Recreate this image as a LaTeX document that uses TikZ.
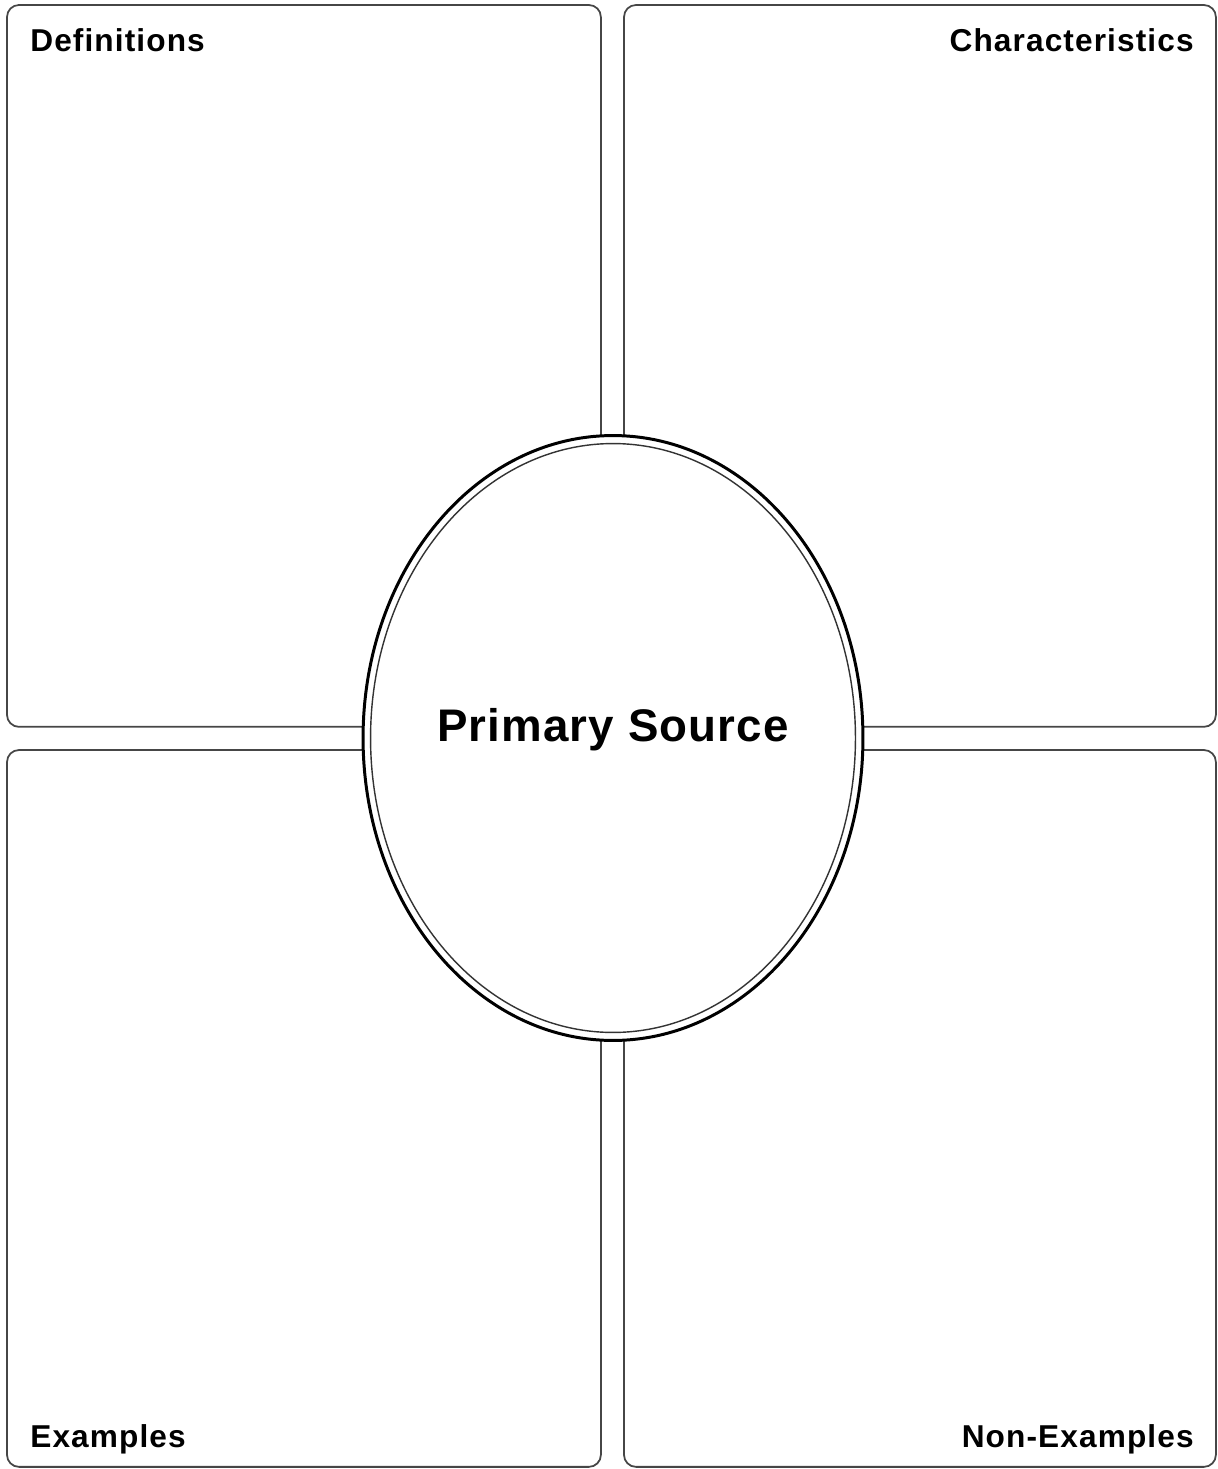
\documentclass[tikz,border=0pt]{standalone}
\usepackage{fontspec}
\setmainfont{Liberation Sans}
\definecolor{edgegray}{RGB}{70,70,70}
\usetikzlibrary{shapes.geometric, positioning}

\begin{document}
\begin{tikzpicture}[
      x=0.02cm, y=-0.02cm,
      panel/.style={rectangle, rounded corners=0.24cm, draw=edgegray, line width=1pt, fill=white, anchor=north west, inner sep=0pt, outer sep=0pt},
      wide/.style={minimum width=11.88cm},
      narrow/.style={minimum width=11.84cm},
      toprow/.style={minimum height=14.44cm},
      botrow/.style={minimum height=14.34cm},
      tag/.style={font=\fontsize{18}{20}\selectfont\bfseries\addfontfeatures{LetterSpace=3.5}, inner sep=0pt},
      core/.style={ellipse, draw=black, line width=1.7pt, fill=white, minimum width=10.0cm, minimum height=12.1cm, inner sep=0pt},
      coreinner/.style={ellipse, draw=black!80, line width=0.8pt, minimum width=9.7cm, minimum height=11.78cm, inner sep=0pt},
    ]
    \useasboundingbox (0,0) rectangle (1217,1469);

    % the four panels
    \node[panel, wide, toprow] (defs) at (7,5) {};
    \node[panel, narrow, toprow] (chars) at (624,5) {};
    \node[panel, wide, botrow] (exs) at (7,750) {};
    \node[panel, narrow, botrow] (nonexs) at (624,750) {};

    % panel titles
    \node[tag, anchor=north west] (defslabel) at (30,28) {Definitions};
    \node[tag, anchor=north east] (charslabel) at (1194,28) {Characteristics};
    \node[tag, anchor=south west] (exslabel) at (30,1454) {Examples};
    \node[tag, anchor=south east] (nonexslabel) at (1194,1454) {Non-Examples};

    % centre oval
    \node[core] (src) at (613,738) {};
    \node[coreinner] (srcinner) at (src.center) {};
    \node[font=\fontsize{26}{30}\selectfont\bfseries\addfontfeatures{LetterSpace=2.5}] (srclabel) at (613,730) {Primary Source};
  \end{tikzpicture}
\end{document}
